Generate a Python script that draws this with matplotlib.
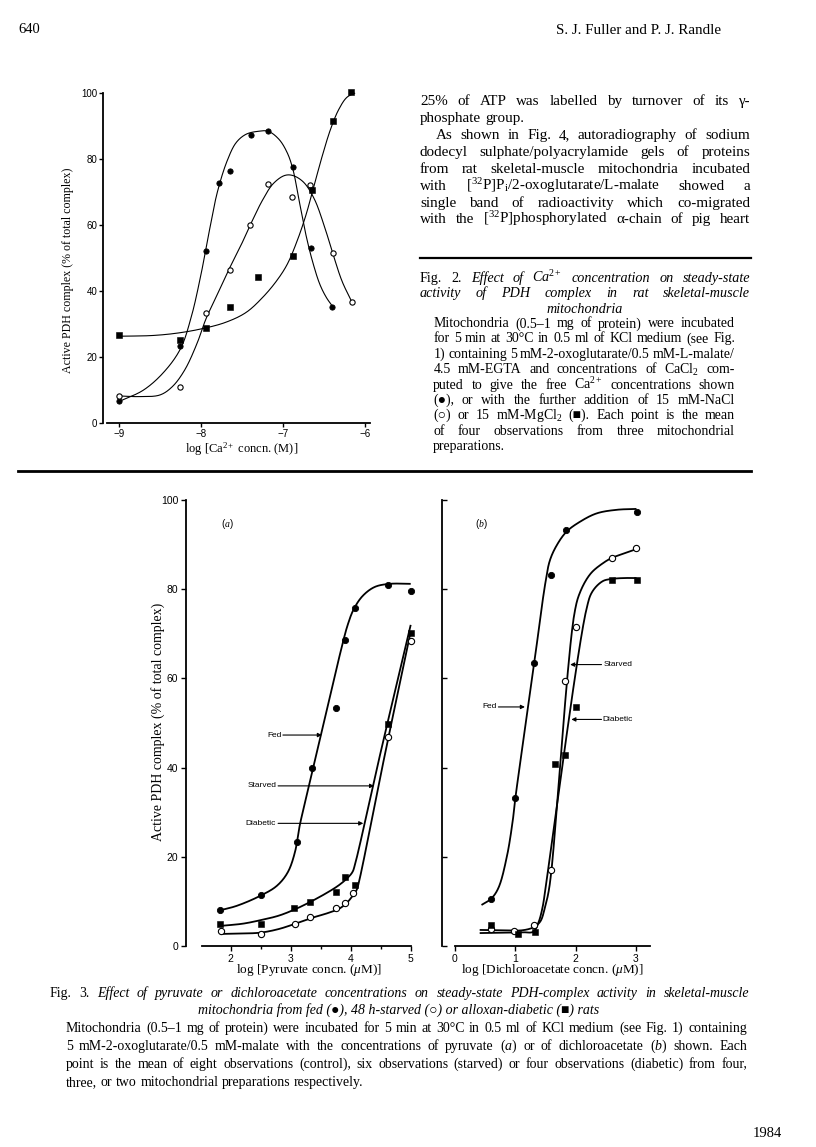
import numpy as np
import matplotlib
matplotlib.use("Agg")
import matplotlib.pyplot as plt

# ---------------- data ----------------
# Fig. 2 : log[Ca2+] (M) vs active PDH (%)
ca_fed_x = [-9.0, -8.25, -7.94, -7.78, -7.64, -7.39, -7.18, -6.88, -6.66, -6.40]
ca_fed_y = [6.6, 23.4, 52.2, 72.6, 76.5, 87.3, 88.6, 77.7, 53.1, 35.3]
ca_nacl_x = [-9.0, -8.26, -7.94, -7.64, -7.40, -7.18, -6.89, -6.67, -6.39, -6.16]
ca_nacl_y = [8.1, 11.0, 33.4, 46.4, 59.9, 72.5, 68.4, 72.0, 51.5, 36.8]
ca_mg_x = [-9.0, -8.25, -7.94, -7.65, -7.30, -6.88, -6.64, -6.39, -6.17]
ca_mg_y = [26.8, 25.3, 28.8, 35.1, 44.2, 50.7, 70.6, 91.5, 100.2]

# hand-drawn fitted curves of Fig. 2
ca_fed_cx = [-9.0, -8.7, -8.45, -8.25, -8.12, -8.0, -7.9, -7.8, -7.68, -7.57, -7.45, -7.3, -7.18,
             -7.05, -6.95, -6.88, -6.8, -6.72, -6.64, -6.55, -6.47, -6.40]
ca_fed_cy = [6.5, 10.0, 15.5, 22.5, 32.0, 45.0, 58.0, 70.0, 79.5, 85.0, 87.5, 88.4, 88.4,
             86.0, 82.0, 77.0, 67.0, 57.0, 49.0, 42.0, 38.0, 35.5]
ca_nacl_cx = [-9.0, -8.75, -8.5, -8.35, -8.2, -8.05, -7.94, -7.8, -7.65, -7.5, -7.38, -7.25,
              -7.12, -6.98, -6.88, -6.75, -6.62, -6.5, -6.4, -6.28, -6.16]
ca_nacl_cy = [8.2, 8.0, 8.5, 11.0, 16.0, 24.0, 31.5, 39.0, 47.0, 54.5, 61.0, 67.5,
              72.5, 75.0, 75.0, 73.0, 68.0, 60.0, 52.0, 43.0, 36.7]
ca_mg_cx = [-9.0, -8.6, -8.3, -8.0, -7.7, -7.45, -7.25, -7.08, -6.95, -6.83, -6.72, -6.62,
            -6.52, -6.42, -6.32, -6.22, -6.12]
ca_mg_cy = [26.3, 26.5, 27.2, 28.5, 30.5, 33.5, 38.0, 43.0, 48.0, 55.0, 63.0, 72.0,
            81.0, 89.0, 95.0, 98.7, 100.0]

# Fig. 3(a) : log[pyruvate] (uM)
pyr_fed_x = [1.82, 2.51, 3.10, 3.36, 3.76, 3.91, 4.07, 4.63, 5.0]
pyr_fed_y = [8.1, 11.5, 23.3, 40.0, 53.4, 68.5, 75.8, 80.9, 79.7]
pyr_st_x = [1.83, 2.51, 3.07, 3.33, 3.75, 3.91, 4.04, 4.63, 5.0]
pyr_st_y = [3.4, 2.7, 4.9, 6.4, 8.5, 9.6, 11.9, 46.8, 68.4]
pyr_di_x = [1.82, 2.51, 3.06, 3.32, 3.75, 3.90, 4.07, 4.63, 5.0]
pyr_di_y = [4.9, 4.9, 8.5, 9.8, 12.0, 15.5, 13.7, 49.8, 70.1]

pyr_fed_cx = [1.82, 2.1, 2.5, 2.77, 2.95, 3.07, 3.15, 3.2, 3.5, 3.85, 3.95, 4.05, 4.2, 4.4, 4.65, 5.0]
pyr_fed_cy = [8.0, 9.0, 11.3, 13.5, 16.5, 21.0, 27.0, 30.0, 47.0, 67.0, 72.0, 75.5, 78.5, 80.5, 81.2, 81.2]
pyr_st_cx = [1.83, 2.2, 2.5, 2.8, 3.1, 3.4, 3.6, 3.8, 3.93, 4.03, 4.1, 4.14, 4.56, 5.0]
pyr_st_cy = [2.7, 2.8, 3.0, 3.8, 5.1, 6.5, 7.3, 8.3, 9.6, 11.2, 12.6, 14.5, 42.3, 70.5]
pyr_di_cx = [1.82, 2.2, 2.5, 2.8, 3.05, 3.3, 3.6, 3.8, 3.95, 4.03, 4.07, 4.5, 5.0]
pyr_di_cy = [4.5, 5.0, 5.8, 6.8, 8.1, 9.7, 11.9, 13.6, 15.3, 16.6, 18.2, 43.5, 72.0]

# Fig. 3(b) : log[dichloroacetate] (uM)
dca_fed_x = [0.60, 1.00, 1.31, 1.60, 1.84, 3.02]
dca_fed_y = [10.5, 33.1, 63.4, 83.2, 93.3, 97.4]
dca_st_x = [0.60, 0.98, 1.31, 1.60, 1.82, 2.00, 2.60, 3.01]
dca_st_y = [3.7, 3.4, 4.6, 17.0, 59.4, 71.5, 86.9, 89.2]
dca_di_x = [0.60, 1.05, 1.32, 1.66, 1.82, 2.00, 2.61, 3.02]
dca_di_y = [4.6, 2.7, 3.2, 40.8, 42.8, 53.5, 82.1, 82.1]

dca_fed_cx = [0.44, 0.6, 0.72, 0.86, 0.96, 1.0, 1.31, 1.5, 1.575, 1.69, 1.85, 2.07, 2.35, 2.68, 3.01]
dca_fed_cy = [9.2, 10.6, 13.0, 20.0, 28.3, 33.0, 63.0, 81.5, 86.5, 89.9, 92.9, 95.1, 97.0, 97.8, 98.0]
dca_st_cx = [0.41, 0.8, 1.1, 1.25, 1.33, 1.42, 1.49, 1.55, 1.6, 1.98, 2.08, 2.25, 2.45, 2.6, 2.8, 3.01]
dca_st_cy = [3.6, 3.5, 3.5, 3.9, 4.4, 5.6, 8.5, 12.0, 17.0, 74.5, 79.5, 83.5, 85.8, 87.0, 88.0, 89.0]
dca_di_cx = [0.41, 0.8, 1.1, 1.3, 1.38, 1.45, 1.52, 2.18, 2.28, 2.45, 2.6, 2.8, 3.01]
dca_di_cy = [2.9, 3.0, 3.1, 3.2, 5.1, 8.5, 14.8, 75.5, 79.5, 81.8, 82.3, 82.5, 82.5]

y_ticks = [0, 20, 40, 60, 80, 100]
ca_ticks = [-9, -8, -7, -6]
ca_ticklabels = ["\u22129", "\u22128", "\u22127", "\u22126"]
pyr_ticks = [2, 3, 4, 5]
pyr_minor = [2.5, 3.5, 4.5]
dca_ticks = [0, 1, 2, 3]

# ---------------- page setup ----------------
W, H = 816, 1147
plt.rcParams["mathtext.fontset"] = "custom"
plt.rcParams["mathtext.rm"] = "Liberation Serif"
plt.rcParams["mathtext.it"] = "Liberation Serif:italic"
plt.rcParams["mathtext.bf"] = "Liberation Serif:bold"
SERIF = ["Liberation Serif", "DejaVu Serif", "DejaVu Sans"]
SANS = ["Liberation Sans", "DejaVu Sans"]

fig = plt.figure(figsize=(W / 100, H / 100), dpi=100)
fig.patch.set_facecolor("white")
renderer = fig.canvas.get_renderer()


def fx(px):
    return px / W


def fy(py):
    return 1 - py / H


def base(yc, size):
    # convert a visual line centre (px) into a baseline (px)
    return yc + 0.30 * size * 100 / 72


def put(s, x, yc, size, ha="left", style="normal", family=SERIF, **kw):
    return fig.text(fx(x), fy(base(yc, size)), s, fontsize=size, ha=ha,
                    va="baseline", style=style, family=family, **kw)


def jline(roman, italic, x0, x1, yc, size, justify=True):
    words = [(w, "normal") for w in roman.split()] + [(w, "italic") for w in italic.split()]
    arts, widths = [], []
    for w, st in words:
        t = fig.text(0, 0, w, fontsize=size, style=st, family=SERIF, va="baseline")
        widths.append(t.get_window_extent(renderer).width)
        arts.append(t)
    if justify and len(words) > 1:
        gap = (x1 - x0 - sum(widths)) / (len(words) - 1)
    else:
        gap = 0.26 * size * 100 / 72
    x = x0
    yb = base(yc, size)
    for t, wd in zip(arts, widths):
        t.set_position((fx(x), fy(yb)))
        x += wd + gap


def hrule(x0, x1, y, lw=1.6):
    fig.add_artist(plt.Line2D([fx(x0), fx(x1)], [fy(y), fy(y)], color="black", lw=lw,
                              transform=fig.transFigure))


def smooth(ax, xs, ys, n=30, alpha=0.5):
    # centripetal Catmull-Rom through the read curve points, in display space
    P = ax.transData.transform(np.column_stack([xs, ys]).astype(float))
    P = np.vstack([2 * P[0] - P[1], P, 2 * P[-1] - P[-2]])
    out = []
    for i in range(1, len(P) - 2):
        p0, p1, p2, p3 = P[i - 1], P[i], P[i + 1], P[i + 2]
        t0 = 0.0
        t1 = t0 + max(np.linalg.norm(p1 - p0), 1e-6) ** alpha
        t2 = t1 + max(np.linalg.norm(p2 - p1), 1e-6) ** alpha
        t3 = t2 + max(np.linalg.norm(p3 - p2), 1e-6) ** alpha
        t = np.linspace(t1, t2, n)[:, None]
        A1 = (t1 - t) / (t1 - t0) * p0 + (t - t0) / (t1 - t0) * p1
        A2 = (t2 - t) / (t2 - t1) * p1 + (t - t1) / (t2 - t1) * p2
        A3 = (t3 - t) / (t3 - t2) * p2 + (t - t2) / (t3 - t2) * p3
        B1 = (t2 - t) / (t2 - t0) * A1 + (t - t0) / (t2 - t0) * A2
        B2 = (t3 - t) / (t3 - t1) * A2 + (t - t1) / (t3 - t1) * A3
        C = (t2 - t) / (t2 - t1) * B1 + (t - t1) / (t2 - t1) * B2
        out.append(C if i == 1 else C[1:])
    S = ax.transData.inverted().transform(np.vstack(out))
    return S[:, 0], S[:, 1]


def add_axes_px(left, right, top, bottom):
    return fig.add_axes([fx(left), fy(bottom), (right - left) / W, (bottom - top) / H])


def draw_series(ax, cx, cy, x, y, kind, lw, ms):
    sx, sy = smooth(ax, cx, cy)
    ax.plot(sx, sy, color="black", lw=lw, clip_on=False, zorder=2, solid_capstyle="butt")
    if kind == "fed":
        ax.plot(x, y, "o", ms=ms, mfc="black", mec="black", mew=0.6, clip_on=False, zorder=3)
    elif kind == "open":
        ax.plot(x, y, "o", ms=ms, mfc="white", mec="black", mew=0.8, clip_on=False, zorder=3)
    else:
        ax.plot(x, y, "s", ms=ms * 1.0, mfc="black", mec="black", mew=0.4, clip_on=False, zorder=3)


# ---------------- running head ----------------
put("640", 18, 29, 10.5)
put("S. J. Fuller and P. J. Randle", 556, 29, 10.8)

# ---------------- Fig. 2 ----------------
ax2 = add_axes_px(103, 373, 93, 423)
ax2.set_xlim(-9.195, -5.902)
ax2.set_ylim(0, 100)
for s in ["top", "right"]:
    ax2.spines[s].set_visible(False)
ax2.spines["left"].set_bounds(0, 100)
ax2.spines["bottom"].set_bounds(-9.146, -5.94)
ax2.spines["left"].set_linewidth(1.3)
ax2.spines["bottom"].set_linewidth(1.3)
ax2.set_yticks(y_ticks)
ax2.set_xticks(ca_ticks)
ax2.set_xticklabels(ca_ticklabels)
ax2.tick_params(axis="both", direction="out", length=3.0, width=1.0, labelsize=7, pad=1.2)
for lab in ax2.get_xticklabels() + ax2.get_yticklabels():
    lab.set_family(SANS)
draw_series(ax2, ca_fed_cx, ca_fed_cy, ca_fed_x, ca_fed_y, "fed", 0.8, 3.8)
draw_series(ax2, ca_nacl_cx, ca_nacl_cy, ca_nacl_x, ca_nacl_y, "open", 0.8, 3.8)
draw_series(ax2, ca_mg_cx, ca_mg_cy, ca_mg_x, ca_mg_y, "sq", 0.8, 3.9)
fig.text(fx(68), fy(270), "Active PDH complex (% of total complex)", rotation=90,
         ha="center", va="center", fontsize=8.6, family=SERIF)
fig.text(fx(242), fy(449), "log [Ca$^{2+}$ concn. (M)]", ha="center", va="center",
         fontsize=9, family=SERIF)

# ---------------- right column text ----------------
RX0, RX1 = 420, 750
col_lines = [
    ("25% of ATP was labelled by turnover of its \u03b3-", RX0, 100, True),
    ("phosphate group.", RX0, 117.7, False),
    ("As shown in Fig. 4, autoradiography of sodium", 435.7, 134.3, True),
    ("dodecyl sulphate/polyacrylamide gels of proteins", RX0, 151.7, True),
    ("from rat skeletal-muscle mitochondria incubated", RX0, 168.3, True),
    ("with [$^{32}$P]P$_{\\mathrm{i}}$/2-oxoglutarate/L-malate showed a", RX0, 185, True),
    ("single band of radioactivity which co-migrated", RX0, 202.3, True),
    ("with the [$^{32}$P]phosphorylated \u03b1-chain of pig heart", RX0, 218.7, True),
]
for txt, x0, yc, j in col_lines:
    jline(txt, "", x0, RX1, yc, 10.9, justify=j)

hrule(420, 751, 258.3, lw=1.6)

jline("Fig. 2.", "Effect of Ca$^{2+}$ concentration on steady-state", RX0, RX1, 277.7, 10.2)
jline("", "activity of PDH complex in rat skeletal-muscle", RX0, RX1, 292.7, 10.2)
put("mitochondria", 585, 308.3, 10.2, ha="center", style="italic")

BX0, BX1 = 433.3, 735
cap2 = [
    ("Mitochondria (0.5\u20131 mg of protein) were incubated", 323.3, True),
    ("for 5 min at 30\u00b0C in 0.5 ml of KCl medium (see Fig.", 338.3, True),
    ("1) containing 5 mM-2-oxoglutarate/0.5 mM-L-malate/", 354.0, True),
    ("4.5 mM-EGTA and concentrations of CaCl$_2$ com-", 369.3, True),
    ("puted to give the free Ca$^{2+}$ concentrations shown", 385.0, True),
    ("(\u25cf), or with the further addition of 15 mM-NaCl", 400.0, True),
    ("(\u25cb) or 15 mM-MgCl$_2$ (\u25a0). Each point is the mean", 415.0, True),
    ("of four observations from three mitochondrial", 430.7, True),
    ("preparations.", 445.5, False),
]
for txt, yc, j in cap2:
    jline(txt, "", BX0, BX1, yc, 10.0, justify=j)

hrule(18, 751, 470.7, lw=2.0)

# ---------------- Fig. 3(a) ----------------
axa = add_axes_px(186, 420, 500, 946)
axa.set_xlim(1.255, 5.155)
axa.set_ylim(0, 100)
for s in ["top", "right"]:
    axa.spines[s].set_visible(False)
axa.spines["left"].set_bounds(0, 100)
axa.spines["bottom"].set_bounds(1.52, 5.0)
axa.spines["left"].set_linewidth(1.3)
axa.spines["bottom"].set_linewidth(1.3)
axa.set_yticks(y_ticks)
axa.set_xticks(pyr_ticks)
axa.set_xticks(pyr_minor, minor=True)
axa.tick_params(axis="both", which="major", direction="out", length=3.5, width=1.0,
                labelsize=7.5, pad=2)
axa.tick_params(axis="x", which="minor", direction="out", length=2.5, width=1.0)
for lab in axa.get_xticklabels() + axa.get_yticklabels():
    lab.set_family(SANS)
draw_series(axa, pyr_fed_cx, pyr_fed_cy, pyr_fed_x, pyr_fed_y, "fed", 1.3, 4.5)
draw_series(axa, pyr_st_cx, pyr_st_cy, pyr_st_x, pyr_st_y, "open", 1.3, 4.5)
draw_series(axa, pyr_di_cx, pyr_di_cy, pyr_di_x, pyr_di_y, "sq", 1.3, 4.4)
axa.text(1.94, 94.6, "($a$)", fontsize=7, family=SANS, ha="center", va="center")

arrow_kw = dict(arrowstyle="-|>", lw=0.8, color="black", mutation_scale=6,
                shrinkA=0, shrinkB=0)
for lab, x0, x1, yy, tx, ha in [
    ("Fed", 2.87, 3.52, 47.3, 2.85, "right"),
    ("Starved", 2.79, 4.39, 35.9, 2.77, "right"),
    ("Diabetic", 2.79, 4.21, 27.5, 2.755, "right"),
]:
    axa.annotate("", xy=(x1, yy), xytext=(x0, yy), arrowprops=arrow_kw)
    axa.text(tx, yy, lab, fontsize=6, family=SANS, ha=ha, va="center")

fig.text(fx(158), fy(722), "Active PDH complex (% of total complex)", rotation=90,
         ha="center", va="center", fontsize=10, family=SERIF)
fig.text(fx(309), fy(970), "log [Pyruvate concn. ($\\mu$M)]", ha="center", va="center",
         fontsize=9.5, family=SERIF)

# ---------------- Fig. 3(b) ----------------
axb = add_axes_px(441.7, 660, 500, 946)
axb.set_xlim(-0.22, 3.40)
axb.set_ylim(0, 100)
for s in ["top", "right"]:
    axb.spines[s].set_visible(False)
axb.spines["left"].set_bounds(0, 100)
axb.spines["bottom"].set_bounds(0.0, 3.24)
axb.spines["left"].set_linewidth(1.3)
axb.spines["bottom"].set_linewidth(1.3)
axb.set_yticks(y_ticks)
axb.set_yticklabels([])
axb.set_xticks(dca_ticks)
axb.tick_params(axis="y", direction="in", length=3.5, width=1.0)
axb.tick_params(axis="x", direction="out", length=3.5, width=1.0, labelsize=7.5, pad=2)
for lab in axb.get_xticklabels():
    lab.set_family(SANS)
draw_series(axb, dca_fed_cx, dca_fed_cy, dca_fed_x, dca_fed_y, "fed", 1.3, 4.5)
draw_series(axb, dca_st_cx, dca_st_cy, dca_st_x, dca_st_y, "open", 1.3, 4.5)
draw_series(axb, dca_di_cx, dca_di_cy, dca_di_x, dca_di_y, "sq", 1.3, 4.4)
axb.text(0.44, 94.6, "($b$)", fontsize=7, family=SANS, ha="center", va="center")
for lab, x0, x1, yy, tx, ha in [
    ("Fed", 0.72, 1.16, 53.6, 0.69, "right"),
    ("Starved", 2.43, 1.91, 63.1, 2.46, "left"),
    ("Diabetic", 2.43, 1.93, 50.8, 2.45, "left"),
]:
    axb.annotate("", xy=(x1, yy), xytext=(x0, yy), arrowprops=arrow_kw)
    axb.text(tx, yy, lab, fontsize=6, family=SANS, ha=ha, va="center")

fig.text(fx(552), fy(970), "log [Dichloroacetate concn. ($\\mu$M)]", ha="center",
         va="center", fontsize=9.5, family=SERIF)

# ---------------- Fig. 3 caption ----------------
CX0, CX1 = 50, 749
jline("Fig. 3.", "Effect of pyruvate or dichloroacetate concentrations on steady-state "
      "PDH-complex activity in skeletal-muscle", CX0, CX1, 993, 10.0)
put("mitochondria from fed (\u25cf), 48 h-starved (\u25cb) or alloxan-diabetic (\u25a0) rats",
    399, 1010, 10.0, ha="center", style="italic")
DX0, DX1 = 66, 747
cap3 = [
    ("Mitochondria (0.5\u20131 mg of protein) were incubated for 5 min at 30\u00b0C in 0.5 ml "
     "of KCl medium (see Fig. 1) containing", 1028, True),
    ("5 mM-2-oxoglutarate/0.5 mM-malate with the concentrations of pyruvate ($a$) or of "
     "dichloroacetate ($b$) shown. Each", 1046, True),
    ("point is the mean of eight observations (control), six observations (starved) or four "
     "observations (diabetic) from four,", 1064, True),
    ("three, or two mitochondrial preparations respectively.", 1082, False),
]
for txt, yc, j in cap3:
    jline(txt, "", DX0, DX1, yc, 10.0, justify=j)

put("1984", 753, 1133, 10.5)

fig.savefig("out.png", dpi=100, facecolor="white")
